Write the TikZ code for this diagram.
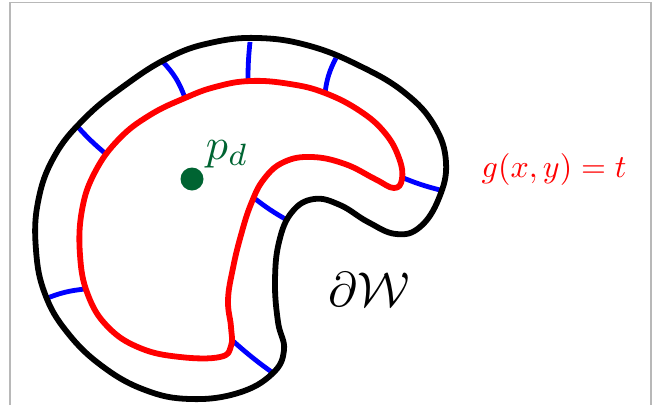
\documentclass[tikz,border=0pt]{standalone}
\begin{document}
\begin{tikzpicture}[x=1pt,y=-1pt,
  outline/.style={line width=5.8pt,black,line join=round},
  level/.style={line width=5.8pt,red,line join=round},
  ray/.style={line width=4.8pt,blue},
  frame/.style={line width=1.2pt,black!28},
  lbl/.style={inner sep=0pt,anchor=base west}]
\definecolor{dotgreen}{RGB}{0,100,50}
\useasboundingbox (0,0) rectangle (654,405);
\draw[frame] (10,405) -- (10,2.5) -- (651,2.5) -- (651,405);
% blue connectors
\coordinate (a1) at (162,61);  \coordinate (b1) at (185,98);
\coordinate (a2) at (250,42);  \coordinate (b2) at (248,81);
\coordinate (a3) at (336,58);  \coordinate (b3) at (325,93);
\coordinate (a4) at (77,126);  \coordinate (b4) at (106,154);
\coordinate (a5) at (45,299);  \coordinate (b5) at (85,289);
\coordinate (a6) at (273,373); \coordinate (b6) at (233,341);
\coordinate (a7) at (287,220); \coordinate (b7) at (254,198);
\coordinate (a8) at (440,190); \coordinate (b8) at (401,177);
\draw[ray] (a1) to[bend left=12] (b1);
\draw[ray] (a2) to[bend right=3] (b2);
\draw[ray] (a3) to[bend right=10] (b3);
\draw[ray] (a4) to[bend right=4] (b4);
\draw[ray] (a5) to[bend left=8] (b5);
\draw[ray] (a6) to[bend left=3] (b6);
\draw[ray] (a7) to[bend left=4] (b7);
\draw[ray] (a8) to[bend left=4] (b8);
% outer boundary
\draw[outline] plot[smooth cycle,tension=0.7] coordinates {
 (258,38) (310,46) (362,67) (405,93) (434,125) (446,162) (439,198) (420,227)
 (396,234) (368,222) (340,205) (314,199) (292,212) (279,242) (275,282) (278,322)
 (284,350) (272,374) (238,393) (190,399) (145,390) (102,366) (67,332) (45,294)
 (36,250) (38,202) (54,157) (84,119) (124,86) (168,58) (210,43)};
% level set
\draw[level] plot[smooth cycle,tension=0.7] coordinates {
 (185,98) (215,87) (250,81) (290,84) (325,93) (360,111) (385,133) (399,158)
 (402,179) (394,188) (375,179) (345,164) (312,157) (284,162) (264,179) (251,204)
 (241,235) (233,268) (228,300) (231,327) (231,346) (220,357) (180,357) (140,348)
 (108,327) (88,295) (80,255) (82,210) (95,172) (119,139) (150,115)};
% point
\fill[dotgreen] (192,179) circle (11.5);
\node[lbl,text=dotgreen,scale=4.4] (pd) at (205,159) {$p_d$};
\node[lbl,text=red,scale=3.2] (gt) at (481,177) {$g(x,y)=t$};
\node[lbl,scale=4.9] (dw) at (328,306) {$\partial\mathcal{W}$};
\end{tikzpicture}
\end{document}
